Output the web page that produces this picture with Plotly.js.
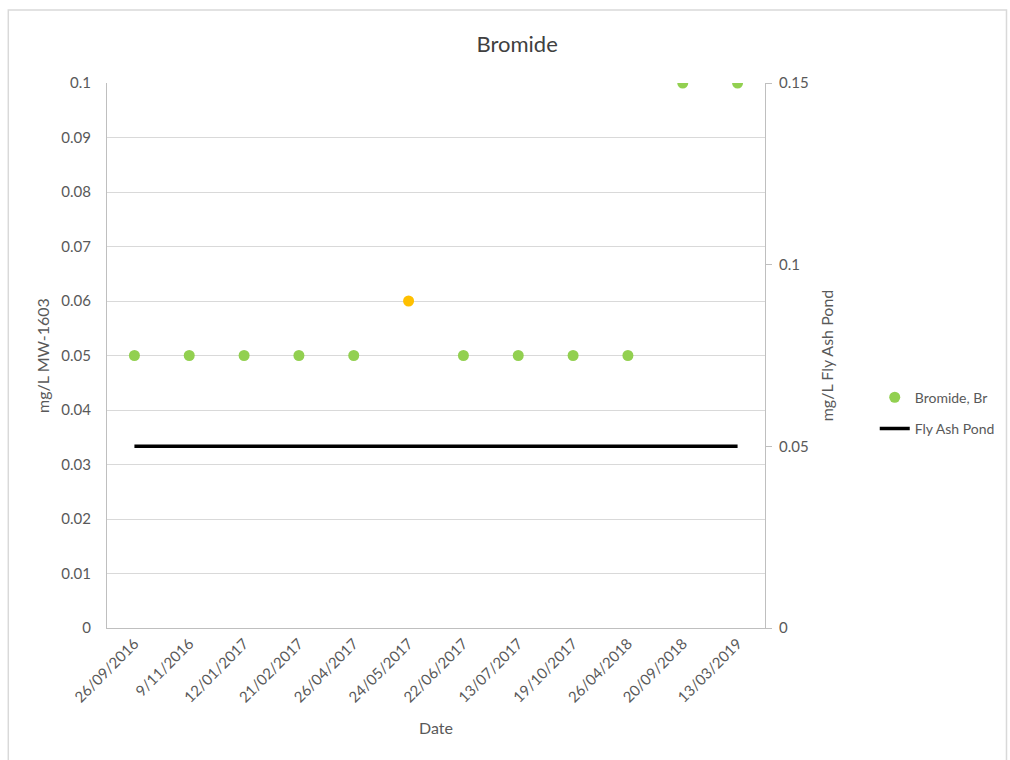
<!DOCTYPE html>
<html><head><meta charset="utf-8">
<script src="https://cdn.plot.ly/plotly-3.0.1.min.js"></script>
<style>body{margin:0;background:#fff}#c{width:1010px;height:760px}</style>
</head><body><div id="c"></div>
<script>
const dates = ["26/09/2016","9/11/2016","12/01/2017","21/02/2017","26/04/2017","24/05/2017","22/06/2017","13/07/2017","19/10/2017","26/04/2018","20/09/2018","13/03/2019"];
const bromide = [0.05,0.05,0.05,0.05,0.05,0.06,0.05,0.05,0.05,0.05,0.1,0.1];
const pointColors = ["#92D050","#92D050","#92D050","#92D050","#92D050","#FFC000","#92D050","#92D050","#92D050","#92D050","#92D050","#92D050"];
const flyAshPond = [0.05,0.05,0.05,0.05,0.05,0.05,0.05,0.05,0.05,0.05,0.05,0.05];
const leftTicks = [0,0.01,0.02,0.03,0.04,0.05,0.06,0.07,0.08,0.09,0.1];
const rightTicks = [0,0.05,0.1,0.15];

const font = "Lato, 'Open Sans', sans-serif";
const traces = [
  {x: dates, y: bromide, type: 'scatter', mode: 'markers', name: 'Bromide, Br', legendgroup: 'a',
   marker: {color: pointColors, size: 11}, yaxis: 'y'},
  {x: dates, y: flyAshPond, type: 'scatter', mode: 'lines', name: 'Fly Ash Pond', legendgroup: 'b',
   line: {color: '#000', width: 3.5}, yaxis: 'y2'}
];
const layout = {
  width: 1010, height: 760,
  margin: {l: 107, r: 244, t: 83, b: 132},
  paper_bgcolor: '#fff', plot_bgcolor: '#fff',
  font: {family: font, color: '#595959', size: 15},
  title: {text: 'Bromide', font: {size: 22, color: '#404040'}, x: 0.512, xanchor: 'center', y: 0.942, yanchor: 'middle'},
  xaxis: {type: 'category', range: [-0.5, 11.5], tickangle: -45, showgrid: false,
    showline: true, linecolor: '#bfbfbf', linewidth: 1, ticks: '',
    tickfont: {size: 15, color: '#595959'},
    title: {text: 'Date', font: {size: 16, color: '#595959'}, standoff: 18}},
  yaxis: {range: [0, 0.1], tickvals: leftTicks, ticktext: leftTicks.map(String),
    showgrid: true, gridcolor: '#d9d9d9', zeroline: false,
    showline: true, linecolor: '#bfbfbf', ticks: '', ticklabelstandoff: 12,
    tickfont: {size: 15},
    title: {text: 'mg/L MW-1603', font: {size: 16}, standoff: 7}},
  yaxis2: {range: [0, 0.15], tickvals: rightTicks, ticktext: rightTicks.map(String),
    overlaying: 'y', side: 'right', showgrid: false, zeroline: false,
    showline: true, linecolor: '#bfbfbf', ticks: 'outside', ticklen: 6, tickcolor: '#bfbfbf',
    tickfont: {size: 15}, ticklabelstandoff: 4,
    title: {text: 'mg/L Fly Ash Pond', font: {size: 16}, standoff: 14}},
  showlegend: true,
  legend: {x: 1.165, y: 0.452, xanchor: 'left', yanchor: 'top', font: {size: 14, color: '#595959'},
    bgcolor: 'rgba(0,0,0,0)', tracegroupgap: 10},
  shapes: [{type: 'rect', xref: 'paper', yref: 'paper', x0: -0.150, x1: 1.367, y0: -0.25, y1: 1.134,
    line: {color: '#d9d9d9', width: 1.5}, fillcolor: 'rgba(0,0,0,0)', layer: 'below'}]
};
Plotly.newPlot('c', traces, layout, {displayModeBar: false});
</script></body></html>
